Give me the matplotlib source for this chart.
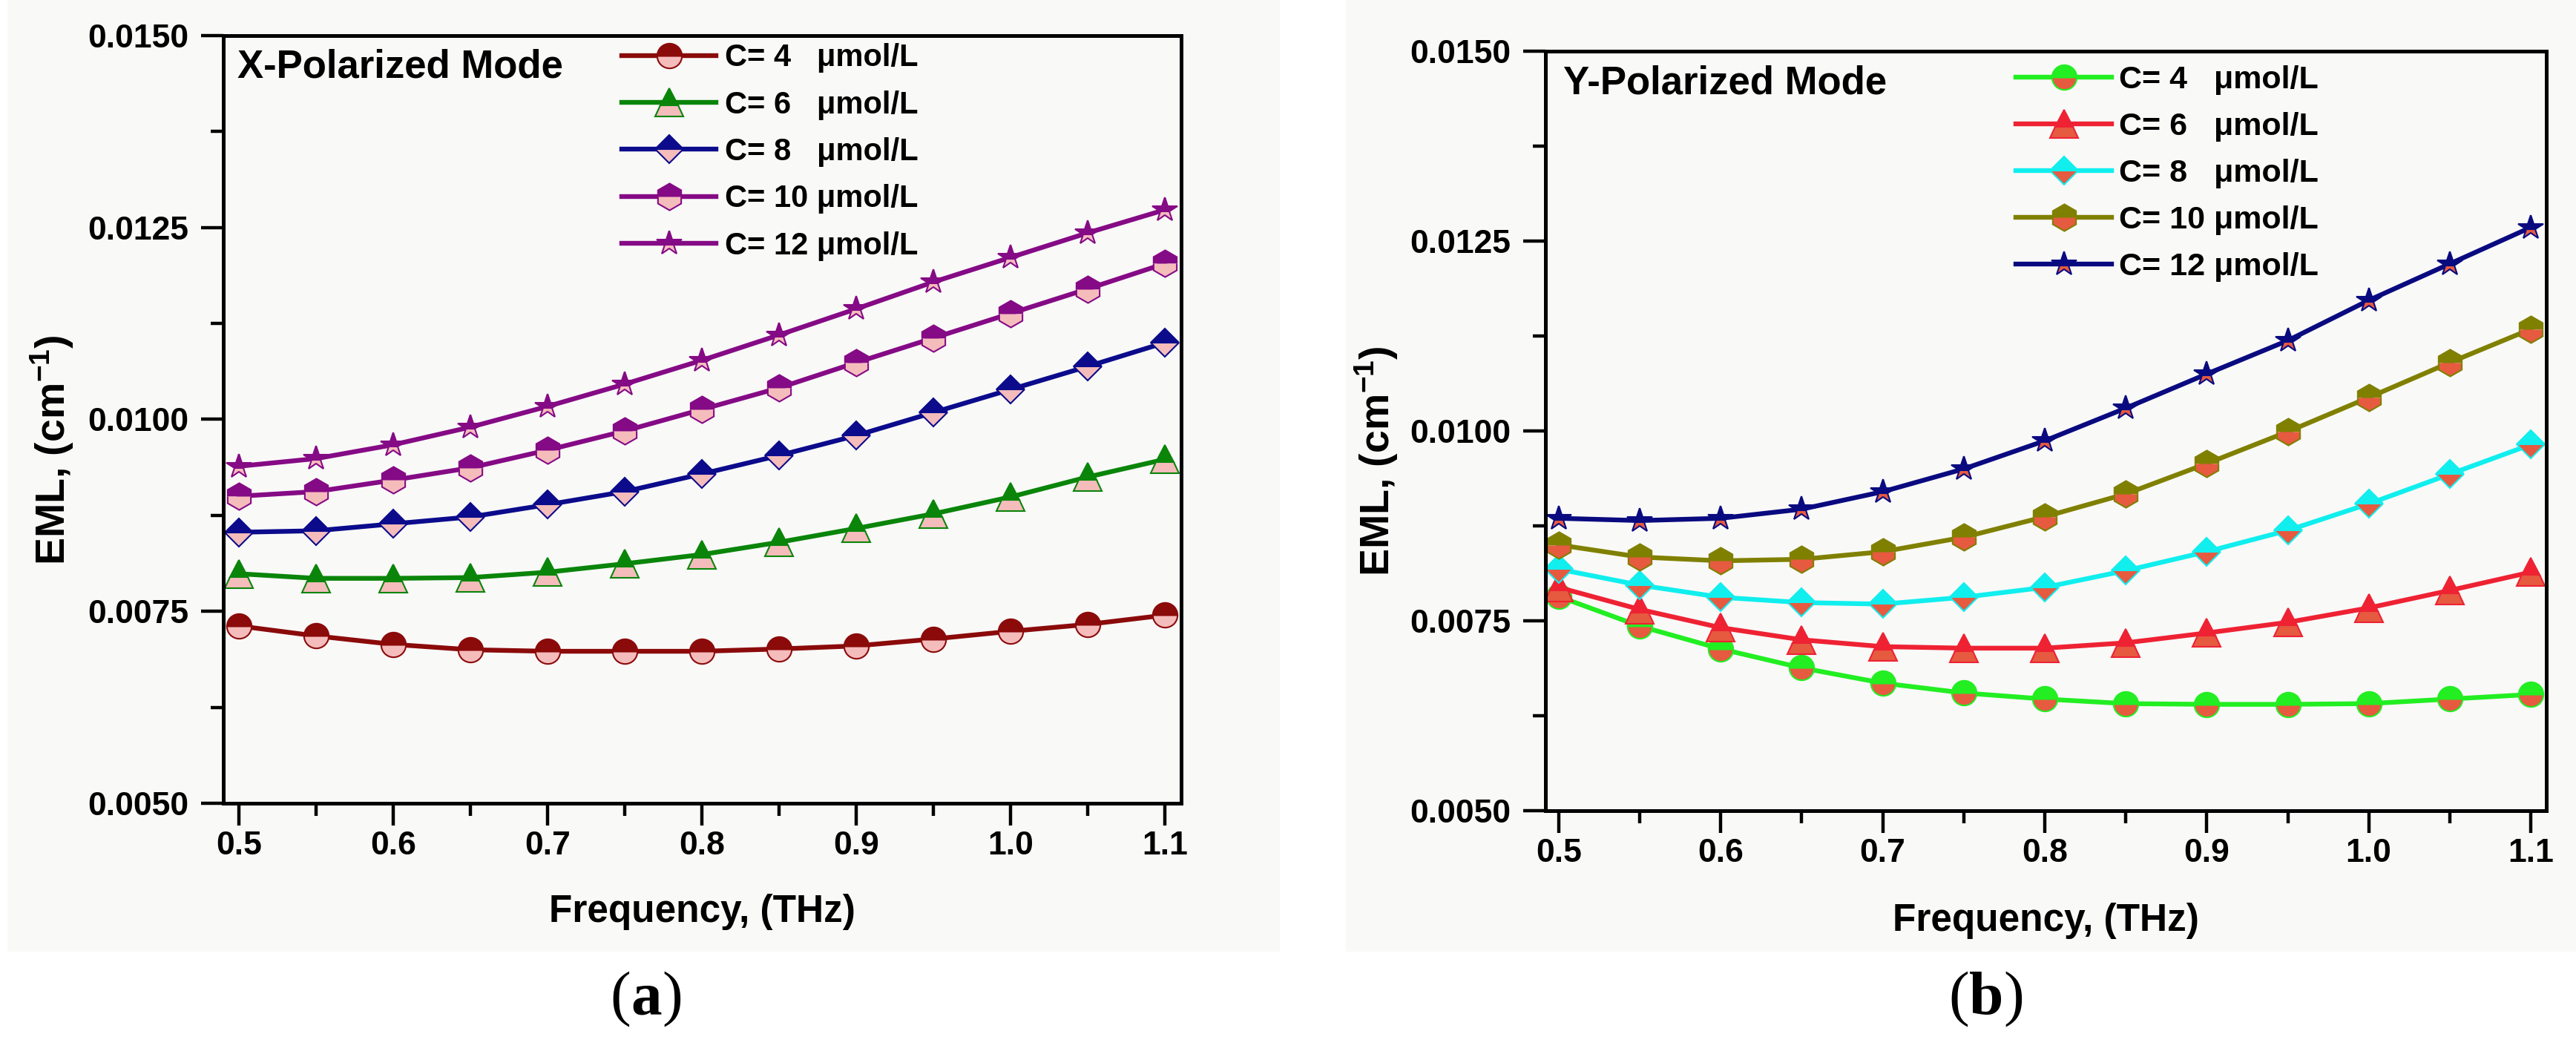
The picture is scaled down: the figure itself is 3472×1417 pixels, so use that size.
import matplotlib
matplotlib.use("Agg")
import matplotlib.pyplot as plt
from matplotlib.patches import Rectangle
from matplotlib.ticker import FormatStrFormatter, MultipleLocator

# ---------------- data ----------------
freq = [0.5, 0.55, 0.6, 0.65, 0.7, 0.75, 0.8, 0.85, 0.9, 0.95, 1.0, 1.05, 1.1]

labels = ["C= 4   \u03bcmol/L", "C= 6   \u03bcmol/L", "C= 8   \u03bcmol/L",
          "C= 10 \u03bcmol/L", "C= 12 \u03bcmol/L"]

# (a) X-polarized mode
xa_c4 = [0.00731, 0.00718, 0.00707, 0.00700, 0.00698, 0.00698, 0.00698, 0.00701, 0.00705, 0.00714, 0.00724, 0.00733, 0.00745]
xa_c6 = [0.00799, 0.00793, 0.00793, 0.00794, 0.00801, 0.00812, 0.00824, 0.00840, 0.00858, 0.00877, 0.00899, 0.00925, 0.00948]
xa_c8 = [0.00853, 0.00855, 0.00864, 0.00873, 0.00889, 0.00906, 0.00929, 0.00953, 0.00979, 0.01009, 0.01039, 0.01069, 0.01100]
xa_c10 = [0.00900, 0.00906, 0.00921, 0.00937, 0.00960, 0.00985, 0.01013, 0.01041, 0.01074, 0.01106, 0.01138, 0.01170, 0.01203]
xa_c12 = [0.00939, 0.00949, 0.00967, 0.00990, 0.01017, 0.01046, 0.01077, 0.01110, 0.01144, 0.01179, 0.01211, 0.01243, 0.01273]

# (b) Y-polarized mode
yb_c4 = [0.00782, 0.00743, 0.00713, 0.00688, 0.00668, 0.00655, 0.00647, 0.00641, 0.00640, 0.00640, 0.00641, 0.00647, 0.00653]
yb_c6 = [0.00794, 0.00765, 0.00741, 0.00725, 0.00716, 0.00714, 0.00714, 0.00721, 0.00734, 0.00748, 0.00767, 0.00790, 0.00814]
yb_c8 = [0.00818, 0.00797, 0.00781, 0.00774, 0.00772, 0.00781, 0.00794, 0.00816, 0.00841, 0.00869, 0.00904, 0.00943, 0.00982]
yb_c10 = [0.00850, 0.00834, 0.00829, 0.00831, 0.00841, 0.00860, 0.00887, 0.00917, 0.00957, 0.00999, 0.01044, 0.01090, 0.01134]
yb_c12 = [0.00885, 0.00882, 0.00885, 0.00897, 0.00920, 0.00950, 0.00987, 0.01030, 0.01075, 0.01119, 0.01172, 0.01220, 0.01268]

# ---------------- style ----------------
plt.rcParams["font.family"] = ["Liberation Sans", "DejaVu Sans"]
plt.rcParams["font.weight"] = "bold"
plt.rcParams["axes.labelweight"] = "bold"
plt.rcParams["mathtext.fontset"] = "custom"
plt.rcParams["mathtext.rm"] = "Liberation Sans:bold"
plt.rcParams["mathtext.bf"] = "Liberation Sans:bold"
plt.rcParams["mathtext.default"] = "bf"

markers = ["o", "^", "D", "h", "*"]
msizes = [24, 28, 19, 26, 25]

colors_a = ["#8b0a0a", "#0a850a", "#0b0b8c", "#850a85", "#850a85"]
alt_a = "#f5bcbc"
colors_b = ["#22ee22", "#ee2233", "#11eeee", "#808000", "#0a0a80"]
alt_b = "#e65a40"

fig = plt.figure(figsize=(34.72, 14.17), dpi=100, facecolor="white")

# faint panel backgrounds
fig.add_artist(Rectangle((10 / 3472, 1 - 1283 / 1417), (1725 - 10) / 3472, 1283 / 1417,
                         transform=fig.transFigure, facecolor="#f9f9f8", edgecolor="none", zorder=-5))
fig.add_artist(Rectangle((1814 / 3472, 1 - 1283 / 1417), (3472 - 1814) / 3472, 1283 / 1417,
                         transform=fig.transFigure, facecolor="#f9f9f8", edgecolor="none", zorder=-5))

ax_a = fig.add_axes([301 / 3472, 1 - 1083 / 1417, (1592 - 301) / 3472, (1083 - 48) / 1417])
ax_b = fig.add_axes([2083 / 3472, 1 - 1093 / 1417, (3432 - 2083) / 3472, (1093 - 69) / 1417])


def style_axes(ax, xlim, title, title_xy, xlab_y, ylab_xy):
    ax.set_facecolor("none")
    ax.set_xlim(*xlim)
    ax.set_ylim(0.005, 0.015)
    ax.xaxis.set_major_locator(MultipleLocator(0.1))
    ax.xaxis.set_minor_locator(MultipleLocator(0.05))
    ax.yaxis.set_major_locator(MultipleLocator(0.0025))
    ax.yaxis.set_minor_locator(MultipleLocator(0.00125))
    ax.xaxis.set_major_formatter(FormatStrFormatter("%.1f"))
    ax.yaxis.set_major_formatter(FormatStrFormatter("%.4f"))
    for s in ax.spines.values():
        s.set_linewidth(3.6)
    ax.tick_params(which="both", direction="out", top=False, right=False, width=3.2)
    ax.tick_params(which="major", length=21.5, labelsize=32)
    ax.tick_params(which="minor", length=12)
    ax.tick_params(axis="x", which="major", pad=5)
    ax.tick_params(axis="y", which="major", pad=12)
    for lab in ax.get_xticklabels() + ax.get_yticklabels():
        lab.set_fontweight("bold")
    ax.set_xlabel("Frequency, (THz)", fontsize=37, fontweight="bold")
    ax.set_ylabel(r"EML, (cm$^{-1}$)", fontsize=40, fontweight="bold")
    ax.xaxis.set_label_coords(0.5, xlab_y)
    ax.yaxis.set_label_coords(ylab_xy[0], ylab_xy[1])
    ax.text(title_xy[0], title_xy[1], title, transform=ax.transAxes, fontsize=38,
            fontweight="bold", ha="left", va="baseline")


def plot_series(ax, series, colors, alt, lw):
    for vals, lab, col, mk, ms in zip(series, labels, colors, markers, msizes):
        ax.plot(freq, vals, color=col, lw=lw, marker=mk, markersize=ms,
                fillstyle="top", markerfacecolor=col, markerfacecoloralt=alt,
                markeredgecolor=col, markeredgewidth=1.5, label=lab)


plot_series(ax_a, [xa_c4, xa_c6, xa_c8, xa_c10, xa_c12], colors_a, alt_a, 4.6)
plot_series(ax_b, [yb_c4, yb_c6, yb_c8, yb_c10, yb_c12], colors_b, alt_b, 4.6)

style_axes(ax_a, (0.4899, 1.1106), "X-Polarized Mode", (0.0147, 0.945), -0.118, (-0.154, 0.46))
style_axes(ax_b, (0.4918, 1.1096), "Y-Polarized Mode", (0.0178, 0.944), -0.121, (-0.1453, 0.46))

leg_a = ax_a.legend(loc="upper left", bbox_to_anchor=(0.416, 0.99), frameon=False,
                    borderpad=0, borderaxespad=0, handlelength=3.05, handletextpad=0.28,
                    labelspacing=0.56, prop={"family": "Liberation Sans", "weight": "bold", "size": 30})
leg_b = ax_b.legend(loc="upper left", bbox_to_anchor=(0.470, 0.981), frameon=False,
                    borderpad=0, borderaxespad=0, handlelength=3.0, handletextpad=0.22,
                    labelspacing=0.53, prop={"family": "Liberation Sans", "weight": "bold", "size": 31})

# panel captions "(a)" and "(b)"
for cx, letter in [(866, "a"), (2670, "b")]:
    t1 = fig.text(cx / 3472 - 0.0125, 1 - 1385 / 1417, "(", fontsize=60,
                  family="Liberation Serif", fontweight="normal", ha="left", va="bottom")
    t2 = fig.add_artist(plt.Annotation(letter, xy=(1, 0), xycoords=t1, fontsize=60,
                                       family="Liberation Serif", fontweight="bold",
                                       ha="left", va="bottom"))
    fig.add_artist(plt.Annotation(")", xy=(1, 0), xycoords=t2, fontsize=60,
                                  family="Liberation Serif", fontweight="normal",
                                  ha="left", va="bottom"))

fig.savefig("out.png", dpi=100, facecolor="white")
